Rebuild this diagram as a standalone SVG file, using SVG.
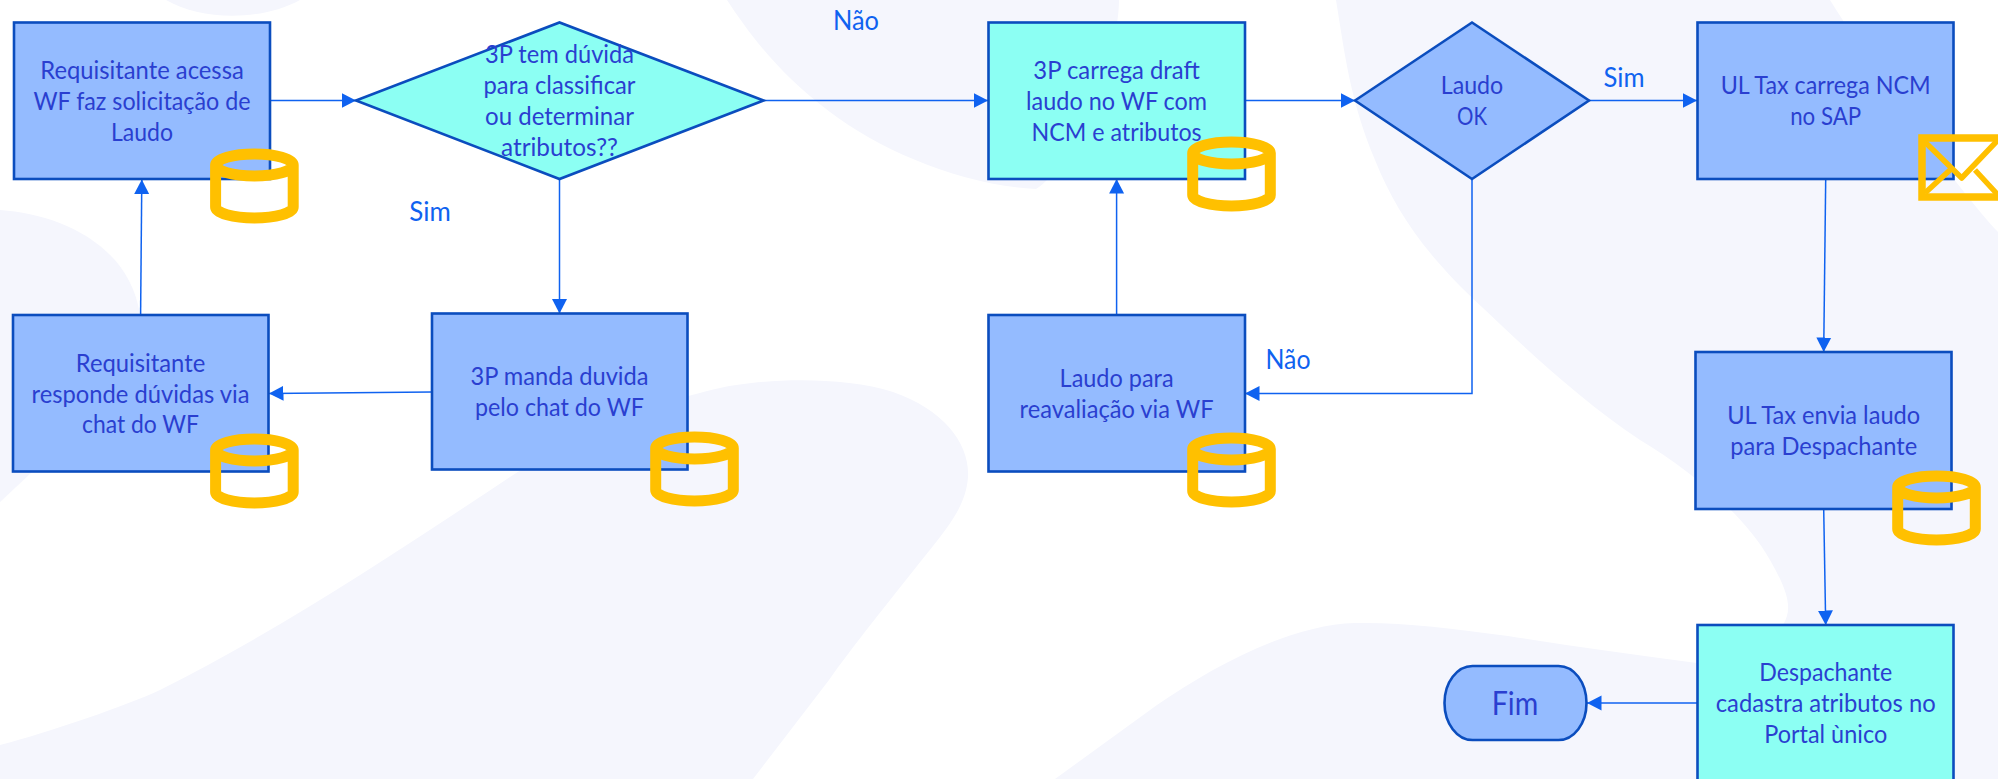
<svg xmlns="http://www.w3.org/2000/svg" xmlns:xlink="http://www.w3.org/1999/xlink" width="1998" height="779" viewBox="0 0 1998 779">
<style>
.bg{fill:#f5f6fd;stroke:none}
.blue{fill:#94bbff;stroke:#0b4dbe;stroke-width:2.6}
.teal{fill:#8cfff3;stroke:#0b4dbe;stroke-width:2.6}
.t{font-family:"Lato","Carlito","Noto Sans",sans-serif;font-size:24.5px;fill:#2a3fd0;text-anchor:middle}
.l{font-family:"Lato","Carlito","Noto Sans",sans-serif;font-size:26px;fill:#0f62f0;text-anchor:middle}
.c{fill:none;stroke:#0f62f0;stroke-width:1.5;marker-end:url(#arrow)}
.y{fill:none;stroke:#ffc000;stroke-width:11}
.e{fill:none;stroke:#ffc000}
</style>
<defs>
<marker id="arrow" markerUnits="userSpaceOnUse" markerWidth="15" markerHeight="16" refX="14.5" refY="8" orient="auto"><path d="M0,0.5 L14.5,8 L0,15.5 Z" fill="#0f62f0"/></marker>
<g id="cyl"><path class="y" d="M-38.8,11 A38.8,11 0 0 1 38.8,11 A38.8,11 0 0 1 -38.8,11 V53 A38.8,11 0 0 0 38.8,53 V11"/></g>
</defs>
<rect width="1998" height="779" fill="#ffffff"/>
<g id="background">
<path class="bg" d="M166,0 C200,20 260,22 300,0 Z"/>
<path class="bg" d="M0,210 C60,214 130,245 140,315 L140,470 L32,472 L0,502 Z"/>
<path class="bg" d="M0,745 C50,732 128,705 160,690 C280,630 400,550 510,477 C600,420 687,395 720,388 C760,379 840,375 893,392 C945,410 970,445 968,477 C966,505 950,525 925,556 C890,600 850,650 829,680 L753,779 L0,779 Z"/>
<path class="bg" d="M727,0 C750,35 780,75 830,112 C880,150 960,185 1036,189 C1070,170 1119,60 1119,0 Z"/>
<path class="bg" d="M1336,0 C1345,55 1350,100 1375,160 C1395,210 1425,255 1483,308 C1525,348 1580,400 1640,440 C1690,470 1745,515 1770,560 C1790,595 1792,610 1783,625 L1697,663 C1630,654 1570,646 1508,636 C1450,628 1400,622 1355,623 C1290,625 1215,665 1157,705 L1055,779 L1998,779 L1998,232 C1955,185 1890,95 1830,0 Z"/>
</g>
<g id="connectors">
<path class="c" d="M270,100.5 H356"/>
<path class="c" d="M763.5,100.5 H988"/>
<path class="c" d="M559.5,179 V313.5"/>
<path class="c" d="M432,392 L269,393.5"/>
<path class="c" d="M140.6,315 L141.8,179.5"/>
<path class="c" d="M1116.6,315 V179"/>
<path class="c" d="M1245,100.5 H1355"/>
<path class="c" d="M1589,100.5 H1697"/>
<path class="c" d="M1472,179 V393.5 H1245"/>
<path class="c" d="M1825.7,179 L1823.7,352"/>
<path class="c" d="M1823.7,509 L1825.7,625"/>
<path class="c" d="M1697.5,703 H1587"/>
</g>
<g id="n-requisitante-acessa"><rect class="blue" x="14" y="22.5" width="256" height="156.5"/>
<text class="t" x="142" y="79.2" textLength="203.5" lengthAdjust="spacingAndGlyphs">Requisitante acessa</text>
<text class="t" x="142" y="110" textLength="217" lengthAdjust="spacingAndGlyphs">WF faz solicitação de</text>
<text class="t" x="142" y="140.8" textLength="62" lengthAdjust="spacingAndGlyphs">Laudo</text></g>
<g id="n-duvida"><polygon class="teal" points="356,100.5 559.5,22.5 763.5,100.5 559.5,179"/>
<text class="t" x="559.5" y="63.2" textLength="149" lengthAdjust="spacingAndGlyphs">3P tem dúvida</text>
<text class="t" x="559.5" y="94" textLength="152" lengthAdjust="spacingAndGlyphs">para classificar</text>
<text class="t" x="559.5" y="124.8" textLength="149" lengthAdjust="spacingAndGlyphs">ou determinar</text>
<text class="t" x="559.5" y="155.6" textLength="117" lengthAdjust="spacingAndGlyphs">atributos??</text></g>
<g id="n-responde"><rect class="blue" x="13" y="315" width="255.5" height="156.5"/>
<text class="t" x="140.5" y="372.2" textLength="129.5" lengthAdjust="spacingAndGlyphs">Requisitante</text>
<text class="t" x="140.5" y="403" textLength="218" lengthAdjust="spacingAndGlyphs">responde dúvidas via</text>
<text class="t" x="140.5" y="433" textLength="117" lengthAdjust="spacingAndGlyphs">chat do WF</text></g>
<g id="n-manda"><rect class="blue" x="432" y="313.5" width="255.5" height="156"/>
<text class="t" x="559.5" y="385.2" textLength="178" lengthAdjust="spacingAndGlyphs">3P manda duvida</text>
<text class="t" x="559.5" y="416" textLength="169" lengthAdjust="spacingAndGlyphs">pelo chat do WF</text></g>
<g id="n-draft"><rect class="teal" x="988.5" y="22.5" width="256.5" height="156.5"/>
<text class="t" x="1116.6" y="79.2" textLength="166.5" lengthAdjust="spacingAndGlyphs">3P carrega draft</text>
<text class="t" x="1116.6" y="110" textLength="181" lengthAdjust="spacingAndGlyphs">laudo no WF com</text>
<text class="t" x="1116.6" y="140.8" textLength="170" lengthAdjust="spacingAndGlyphs">NCM e atributos</text></g>
<g id="n-reavaliacao"><rect class="blue" x="988.5" y="315" width="256.5" height="156.5"/>
<text class="t" x="1116.6" y="387.2" textLength="114" lengthAdjust="spacingAndGlyphs">Laudo para</text>
<text class="t" x="1116.6" y="418" textLength="194" lengthAdjust="spacingAndGlyphs">reavaliação via WF</text></g>
<g id="n-laudo-ok"><polygon class="blue" points="1355,100.5 1472,22.5 1589,100.5 1472,179"/>
<text class="t" x="1472" y="94" textLength="62.5" lengthAdjust="spacingAndGlyphs">Laudo</text>
<text class="t" x="1472" y="124.8" textLength="30" lengthAdjust="spacingAndGlyphs">OK</text></g>
<g id="n-sap"><rect class="blue" x="1697.5" y="22.5" width="256" height="156.5"/>
<text class="t" x="1825.7" y="94" textLength="210" lengthAdjust="spacingAndGlyphs">UL Tax carrega NCM</text>
<text class="t" x="1825.7" y="125" textLength="71" lengthAdjust="spacingAndGlyphs">no SAP</text></g>
<g id="n-envia"><rect class="blue" x="1695.5" y="352" width="256" height="157"/>
<text class="t" x="1823.7" y="423.7" textLength="193" lengthAdjust="spacingAndGlyphs">UL Tax envia laudo</text>
<text class="t" x="1823.7" y="454.7" textLength="187" lengthAdjust="spacingAndGlyphs">para Despachante</text></g>
<g id="n-despachante"><rect class="teal" x="1697.5" y="625" width="256" height="170"/>
<text class="t" x="1825.7" y="681" textLength="133" lengthAdjust="spacingAndGlyphs">Despachante</text>
<text class="t" x="1825.7" y="712" textLength="220" lengthAdjust="spacingAndGlyphs">cadastra atributos no</text>
<text class="t" x="1825.7" y="742.7" textLength="123" lengthAdjust="spacingAndGlyphs">Portal ùnico</text></g>
<g id="n-fim"><rect class="blue" x="1444.5" y="666" width="142" height="74" rx="28" ry="37"/>
<text class="t" x="1515" y="715" style="font-size:32px" textLength="46.5" lengthAdjust="spacingAndGlyphs">Fim</text></g>
<g id="labels">
<text class="l" x="430" y="221" textLength="41.5" lengthAdjust="spacingAndGlyphs">Sim</text>
<text class="l" x="856" y="30" textLength="46" lengthAdjust="spacingAndGlyphs">Não</text>
<text class="l" x="1624" y="86.5" textLength="41" lengthAdjust="spacingAndGlyphs">Sim</text>
<text class="l" x="1288" y="368.5" textLength="45" lengthAdjust="spacingAndGlyphs">Não</text>
</g>
<g id="db-1"><use xlink:href="#cyl" href="#cyl" x="254.4" y="154"/></g>
<g id="db-2"><use xlink:href="#cyl" href="#cyl" x="254.4" y="439"/></g>
<g id="db-3"><use xlink:href="#cyl" href="#cyl" x="694.5" y="437"/></g>
<g id="db-4"><use xlink:href="#cyl" href="#cyl" x="1231.5" y="142"/></g>
<g id="db-5"><use xlink:href="#cyl" href="#cyl" x="1231.5" y="438"/></g>
<g id="db-6"><use xlink:href="#cyl" href="#cyl" x="1936.5" y="476"/></g>
<g id="mail">
<rect class="e" x="1922" y="138" width="80" height="59" stroke-width="7.5"/>
<path class="e" stroke-width="5.5" stroke-linejoin="round" d="M1925,142 L1961.7,178 L1998,140 M1925,193 L1950,170 M1998,195 L1975,170"/>
</g>
</svg>
